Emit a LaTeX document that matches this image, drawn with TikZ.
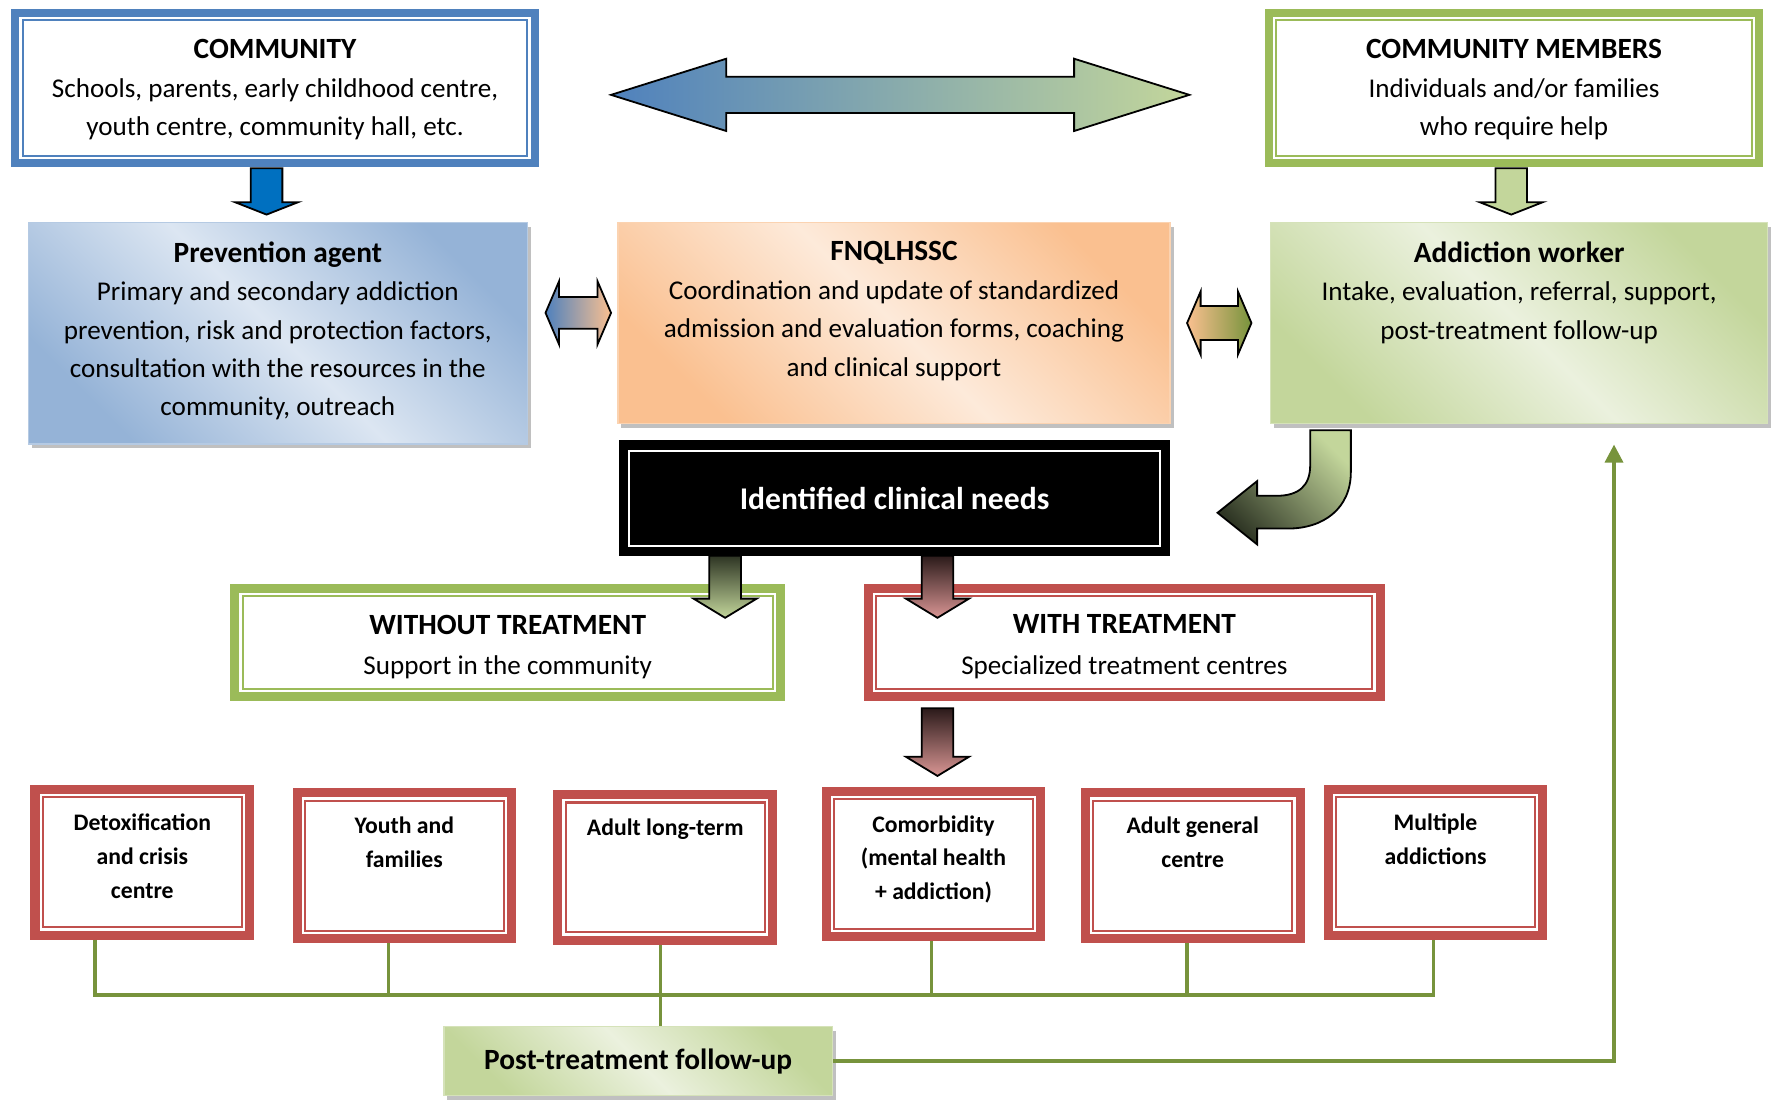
\documentclass[tikz,border=0pt]{standalone}
\usepackage{fontspec}
\setmainfont{Carlito}
\usepackage{xcolor}
\usepackage{tikz}
\usetikzlibrary{arrows.meta, positioning, calc, shadows}
\definecolor{ofblue}{HTML}{4F81BD}
\definecolor{ofgreen}{HTML}{9BBB59}
\definecolor{ofred}{HTML}{C0504D}
\definecolor{lineolive}{HTML}{77933C}
\definecolor{arrowblue}{HTML}{0070C0}
\definecolor{palegreen}{HTML}{C3D69B}
\definecolor{lightgreen}{HTML}{EBF1DE}
\definecolor{paleblue}{HTML}{95B3D7}
\definecolor{lightblue}{HTML}{DCE6F2}
\definecolor{paleorange}{HTML}{FAC090}
\definecolor{lightorange}{HTML}{FDEADA}
\definecolor{palered}{HTML}{D99694}
\definecolor{darkgreenarr}{HTML}{2E3524}
\definecolor{darkredarr}{HTML}{2B1A1A}

\newcommand{\boxtitle}[1]{{\fontsize{13}{17}\selectfont\bfseries #1}}
\newcommand{\innerframe}[3]{\draw[#2, line width=0.9pt]
    ([shift={(#3,#3)}]#1.south west) rectangle ([shift={(-#3,-#3)}]#1.north east);}
% x, top, tip, head length, style
\newcommand{\downblock}[5]{\path[#5] (#1-14,#2) -- (#1+14,#2) -- (#1+14,#3-#4)
    -- (#1+28,#3-#4) -- (#1,#3) -- (#1-28,#3-#4) -- (#1-14,#3-#4) -- cycle;}
% left tip, right tip, middle, shaft half, head half, head length, style
\newcommand{\sideblock}[7]{\path[#7] (#1,#3) -- (#1+#6,#3-#5) -- (#1+#6,#3-#4)
    -- (#2-#6,#3-#4) -- (#2-#6,#3-#5) -- (#2,#3) -- (#2-#6,#3+#5)
    -- (#2-#6,#3+#4) -- (#1+#6,#3+#4) -- (#1+#6,#3+#5) -- cycle;}

\tikzset{
    dblframe/.style={draw=#1, line width=3.5pt, fill=white, inner sep=0pt},
    gradbox/.style 2 args={draw=#1!70, line width=0.6pt, inner sep=0pt,
        top color=#1, bottom color=#1, middle color=#2, shading angle=-45,
        drop shadow={shadow xshift=1.5pt, shadow yshift=-2pt, fill=gray!55, opacity=0.9}},
    txt/.style={align=center, inner sep=0pt, font=\fontsize{12}{17}\selectfont},
    smalltxt/.style={align=center, inner sep=0pt, font=\fontsize{10.5}{15}\selectfont\bfseries},
    blockarrow/.style={draw=black, line width=0.8pt},
    link/.style={draw=lineolive, line width=1.5pt},
}

\begin{document}
\begin{tikzpicture}[x=0.5pt, y=-0.5pt]
    \useasboundingbox (0,0) rectangle (1568,977);

    % top row
    \node[dblframe=ofblue, minimum width=230pt, minimum height=66.5pt] (comm) at (243.5,78) {};
    \innerframe{comm}{ofblue}{5pt}
    \node[txt, anchor=north] (comm-t) at (243.5,34.5)
        {\boxtitle{COMMUNITY}\\Schools, parents, early childhood centre,\\youth centre, community hall, etc.};
    \node[dblframe=ofgreen, minimum width=217pt, minimum height=66.5pt] (memb) at (1340.5,78) {};
    \innerframe{memb}{ofgreen}{5pt}
    \node[txt, anchor=north] (memb-t) at (1340.5,34.5)
        {\boxtitle{COMMUNITY MEMBERS}\\Individuals and/or families\\who require help};

    % middle row
    \node[gradbox={paleblue}{lightblue}, minimum width=221pt, minimum height=98pt] (prev) at (246,295) {};
    \node[txt, anchor=north] (prev-t) at (246,213.5)
        {\boxtitle{Prevention agent}\\Primary and secondary addiction\\prevention, risk and protection factors,\\consultation with the resources in the\\community, outreach};
    \node[gradbox={paleorange}{lightorange}, minimum width=244.5pt, minimum height=89pt] (fnq) at (791.5,286) {};
    \node[txt, anchor=north] (fnq-t) at (791.5,213.5)
        {\boxtitle{FNQLHSSC}\\Coordination and update of standardized\\admission and evaluation forms, coaching\\and clinical support};
    \node[gradbox={palegreen}{lightgreen}, minimum width=220pt, minimum height=89pt] (work) at (1345,286) {};
    \node[txt, anchor=north] (work-t) at (1345,213.5)
        {\boxtitle{Addiction worker}\\Intake, evaluation, referral, support,\\post-treatment follow-up};

    \node[draw=black, line width=3pt, fill=black, minimum width=241pt, minimum height=48pt,
        text=white, font=\fontsize{14}{17}\selectfont\bfseries] (needs) at (792,441) {Identified clinical needs};
    \innerframe{needs}{white}{4.5pt}

    \node[dblframe=ofgreen, line width=4pt, minimum width=241.5pt, minimum height=48pt] (notreat) at (449.5,569) {};
    \innerframe{notreat}{ofgreen}{5.5pt}
    \node[txt, anchor=north] (notreat-t) at (449.5,544)
        {\boxtitle{WITHOUT TREATMENT}\\[1pt]Support in the community};
    \node[dblframe=ofred, line width=4pt, minimum width=226.5pt, minimum height=48pt] (treat) at (995.5,569) {};
    \innerframe{treat}{ofred}{5.5pt}
    \node[txt, anchor=north] (treat-t) at (995.5,544)
        {\boxtitle{WITH TREATMENT}\\[1pt]Specialized treatment centres};

    % treatment centres
    \foreach \n/\x/\y/\t in {
        detox/126/763.5/{Detoxification\\and crisis\\centre},
        youth/358/766.5/{Youth and\\families},
        adultlt/589/768/{Adult long-term},
        comorb/826.5/765/{Comorbidity\\(mental health\\+ addiction)},
        adultgen/1056/766.5/{Adult general\\centre},
        multi/1271/763.5/{Multiple\\addictions}}{
        \node[dblframe=ofred, line width=4pt, minimum width=95pt, minimum height=64.5pt] (\n) at (\x,\y) {};
        \innerframe{\n}{ofred}{5.5pt}
        \node[smalltxt, anchor=north] (\n-t) at (\x,\y-43.5) {\t};
    }

    \node[gradbox={palegreen}{lightgreen}, minimum width=172pt, minimum height=30.5pt,
        font=\fontsize{13}{17}\selectfont\bfseries] (post) at (565,939.5) {Post-treatment follow-up};

    % block arrows
    \sideblock{541}{1053}{84}{16}{32}{102}{blockarrow, left color=ofblue, right color=palegreen}
    \sideblock{483}{541}{277}{14}{28}{12}{blockarrow, left color=ofblue, right color=paleorange}
    \sideblock{1051}{1108}{286}{15}{28}{12}{blockarrow, left color=paleorange, right color=lineolive}
    \downblock{236}{149}{190}{11}{blockarrow, fill=arrowblue}
    \downblock{1338}{149}{190}{11}{blockarrow, fill=palegreen}
    \downblock{642}{492}{547}{17}{blockarrow, top color=darkgreenarr, bottom color=palegreen}
    \downblock{830}{492}{547}{17}{blockarrow, top color=darkredarr, bottom color=palered}
    \downblock{830}{627}{687}{17}{blockarrow, top color=darkredarr, bottom color=palered}
    \path[blockarrow, top color=palegreen, bottom color=darkgreenarr, shading angle=-45]
        (1160,381) -- (1196,381) -- (1196,418)
        .. controls (1196,450) and (1172,468) .. (1140,468) -- (1113,468)
        -- (1113,482) -- (1078,454) -- (1113,426) -- (1113,439) -- (1130,439)
        .. controls (1150,439) and (1160,430) .. (1160,412) -- cycle;

    % follow-up lines
    \coordinate (bus) at (0,881);
    \draw[link] ([xshift=-21pt]detox.south) -- ([xshift=-21pt]detox.south |- bus)
        -- ([xshift=-1pt]multi.south |- bus) -- ([xshift=-1pt]multi.south);
    \foreach \b/\s in {youth/-7pt, comorb/-1pt, adultgen/-2.5pt}
        \draw[link] ([xshift=\s]\b.south) -- ([xshift=\s]\b.south |- bus);
    \draw[link] ([xshift=-2pt]adultlt.south) -- ([xshift=-2pt]adultlt.south |- post.north);
    \draw[link, -{Triangle[width=8pt,length=8pt]}] (post.east) -| ([xshift=42pt,yshift=-9pt]work.south);
\end{tikzpicture}
\end{document}
